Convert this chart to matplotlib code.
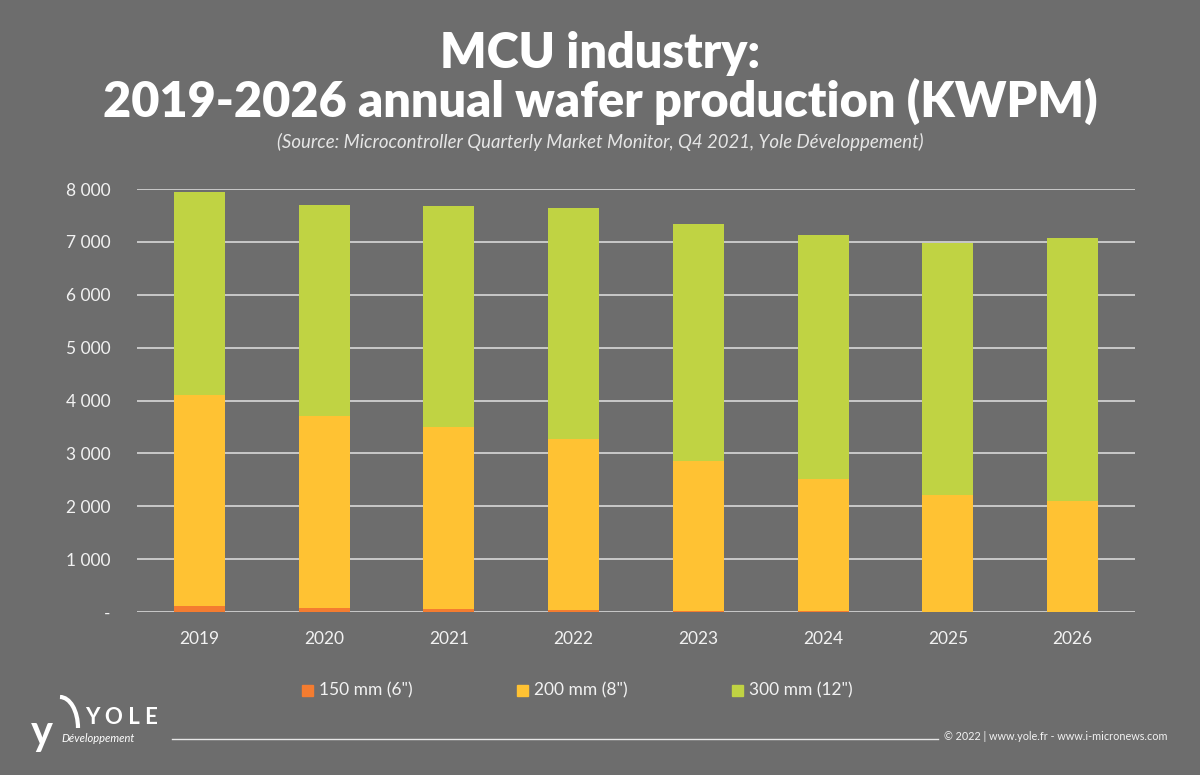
import numpy as np
import matplotlib.pyplot as plt
from matplotlib.patches import Arc

years = ['2019', '2020', '2021', '2022', '2023', '2024', '2025', '2026']
mm150 = [110, 85, 60, 40, 25, 12, 6, 3]
mm200 = [3990, 3615, 3440, 3230, 2825, 2500, 2205, 2095]
mm300 = [3840, 3990, 4170, 4370, 4480, 4620, 4770, 4970]
series_names = ['150 mm (6")', '200 mm (8")', '300 mm (12")']
yticks = [0, 1000, 2000, 3000, 4000, 5000, 6000, 7000, 8000]
ytick_labels = ['-', '1 000', '2 000', '3 000', '4 000', '5 000', '6 000', '7 000', '8 000']

bg = '#6d6d6d'
colors = ['#f47c30', '#ffc233', '#c0d343']
txt = '#f2f2f2'
font = 'Lato'

fig = plt.figure(figsize=(12, 7.75), dpi=100, facecolor=bg)
ax = fig.add_axes([137 / 1200, 1 - 612 / 775, (1135 - 137) / 1200, (612 - 189) / 775])
ax.set_facecolor(bg)

x = np.arange(len(years))
b1 = np.array(mm150)
b2 = b1 + np.array(mm200)
ax.bar(x, mm150, width=0.41, color=colors[0], zorder=3)
ax.bar(x, mm200, width=0.41, bottom=b1, color=colors[1], zorder=3)
ax.bar(x, mm300, width=0.41, bottom=b2, color=colors[2], zorder=3)

ax.set_xlim(-0.5, len(years) - 0.5)
ax.set_ylim(0, 8000)
ax.set_yticks(yticks)
ax.set_yticklabels(ytick_labels)
ax.set_xticks(x)
ax.set_xticklabels(years)
for s in ax.spines.values():
    s.set_visible(False)
ax.tick_params(length=0, colors=txt, labelsize=12.5)
for lab in ax.get_xticklabels() + ax.get_yticklabels():
    lab.set_fontfamily(font)
ax.tick_params(axis='x', pad=14)
ax.tick_params(axis='y', pad=19)
ax.grid(axis='y', color='#d9d9d9', linewidth=1.2, zorder=1)

# titles
fig.text(0.5, 1 - 54 / 775, 'MCU industry:', ha='center', va='center', fontsize=35,
         fontweight='heavy', color='white', family=font)
fig.text(0.5, 1 - 101 / 775, '2019-2026 annual wafer production (KWPM)', ha='center', va='center',
         fontsize=35, fontweight='heavy', color='white', family=font)
fig.text(0.5, 1 - 142 / 775,
         '(Source: Microcontroller Quarterly Market Monitor, Q4 2021, Yole Développement)',
         ha='center', va='center', fontsize=13.4, style='italic', color='#e6e6e6', family=font)

# legend
leg_x = [302, 517, 732]
for lx, name, c in zip(leg_x, series_names, colors):
    fig.patches.append(plt.Rectangle((lx / 1200, 1 - 696 / 775), 11 / 1200, 11 / 775,
                                     transform=fig.transFigure, color=c, figure=fig))
    fig.text((lx + 17) / 1200, 1 - 690 / 775, name, ha='left', va='center', fontsize=12.5,
             color=txt, family=font)

# footer
fig.add_artist(plt.Line2D([172 / 1200, 938 / 1200], [1 - 739 / 775, 1 - 739 / 775],
                          color='#e6e6e6', linewidth=1))
fig.text(1167 / 1200, 1 - 737 / 775, '© 2022 | www.yole.fr - www.i-micronews.com', ha='right',
         va='center', fontsize=7.8, color=txt, family=font)
fig.text(122 / 1200, 1 - 718 / 775, 'Y O L E', ha='center', va='center', fontsize=16,
         fontweight='bold', color='white', family=font)
fig.text(61 / 1200, 1 - 738 / 775, 'Développement', ha='left', va='center', fontsize=8,
         style='italic', color='white', family=font)
fig.text(31 / 1200, 1 - 733 / 775, 'y', ha='left', va='center', fontsize=30,
         fontweight='bold', color='white', family=font)
fig.patches.append(Arc((60 / 1200, 1 - 728 / 775), 36 / 1200, 62 / 775, theta1=0, theta2=90,
                       transform=fig.transFigure, color='white', linewidth=3, figure=fig))

fig.savefig('out.png', dpi=100, facecolor=bg)
